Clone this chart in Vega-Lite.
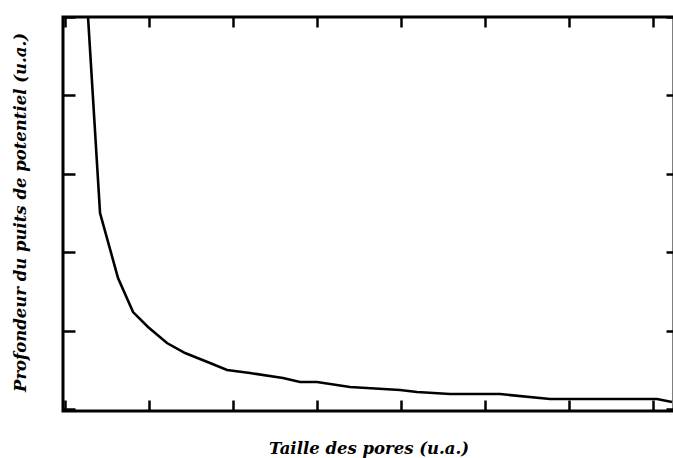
{
  "$schema": "https://vega.github.io/schema/vega-lite/v6.json",
  "width": 611,
  "height": 394,
  "autosize": {"type": "none"},
  "padding": {"left": 63, "top": 17, "right": 0, "bottom": 47},
  "background": "white",
  "config": {
    "view": {"stroke": "black", "strokeWidth": 3},
    "axis": {
      "labels": false,
      "domain": false,
      "grid": false,
      "tickColor": "black",
      "tickWidth": 2.5,
      "titleFont": "DejaVu Serif",
      "titleFontStyle": "italic",
      "titleFontWeight": "bold",
      "titleFontSize": 16.5,
      "titleColor": "black"
    }
  },
  "data": {
    "values": [
      {"x": 0.274, "y": 5.0},
      {"x": 0.417, "y": 2.5},
      {"x": 0.631, "y": 1.671},
      {"x": 0.81, "y": 1.237},
      {"x": 0.988, "y": 1.046},
      {"x": 1.214, "y": 0.842},
      {"x": 1.429, "y": 0.714},
      {"x": 1.726, "y": 0.587},
      {"x": 1.929, "y": 0.497},
      {"x": 2.202, "y": 0.459},
      {"x": 2.595, "y": 0.395},
      {"x": 2.798, "y": 0.344},
      {"x": 3.0, "y": 0.344},
      {"x": 3.393, "y": 0.281},
      {"x": 3.988, "y": 0.242},
      {"x": 4.19, "y": 0.217},
      {"x": 4.583, "y": 0.191},
      {"x": 5.179, "y": 0.191},
      {"x": 5.774, "y": 0.128},
      {"x": 6.571, "y": 0.128},
      {"x": 7.048, "y": 0.128},
      {"x": 7.226, "y": 0.089}
    ]
  },
  "layer": [
    {
      "mark": {"type": "line", "color": "black", "strokeWidth": 2.6, "clip": true},
      "encoding": {
        "x": {
          "field": "x",
          "type": "quantitative",
          "scale": {"domain": [-0.024, 7.25], "nice": false, "zero": false},
          "axis": {
            "orient": "bottom",
            "title": "Taille des pores (u.a.)",
            "values": [0, 1, 2, 3, 4, 5, 6, 7],
            "tickSize": -11,
            "titleBaseline": "alphabetic",
            "titleY": 42
          }
        },
        "y": {
          "field": "y",
          "type": "quantitative",
          "scale": {"domain": [-0.025, 5.0], "nice": false, "zero": false},
          "axis": {
            "orient": "left",
            "title": "Profondeur du puits de potentiel  (u.a.)",
            "values": [0, 1, 2, 3, 4, 5],
            "tickSize": -12,
            "titleAngle": -90,
            "titleAlign": "center",
            "titleBaseline": "alphabetic",
            "titleX": -38,
            "titleY": 195
          }
        }
      }
    },
    {
      "mark": {"type": "line", "opacity": 0},
      "encoding": {
        "x": {
          "field": "x",
          "type": "quantitative",
          "axis": {"orient": "top", "title": null, "values": [0, 1, 2, 3, 4, 5, 6, 7], "tickSize": -10}
        },
        "y": {
          "field": "y",
          "type": "quantitative",
          "axis": {"orient": "right", "title": null, "values": [0, 1, 2, 3, 4, 5], "tickSize": -8}
        }
      }
    }
  ],
  "resolve": {"axis": {"x": "independent", "y": "independent"}}
}
